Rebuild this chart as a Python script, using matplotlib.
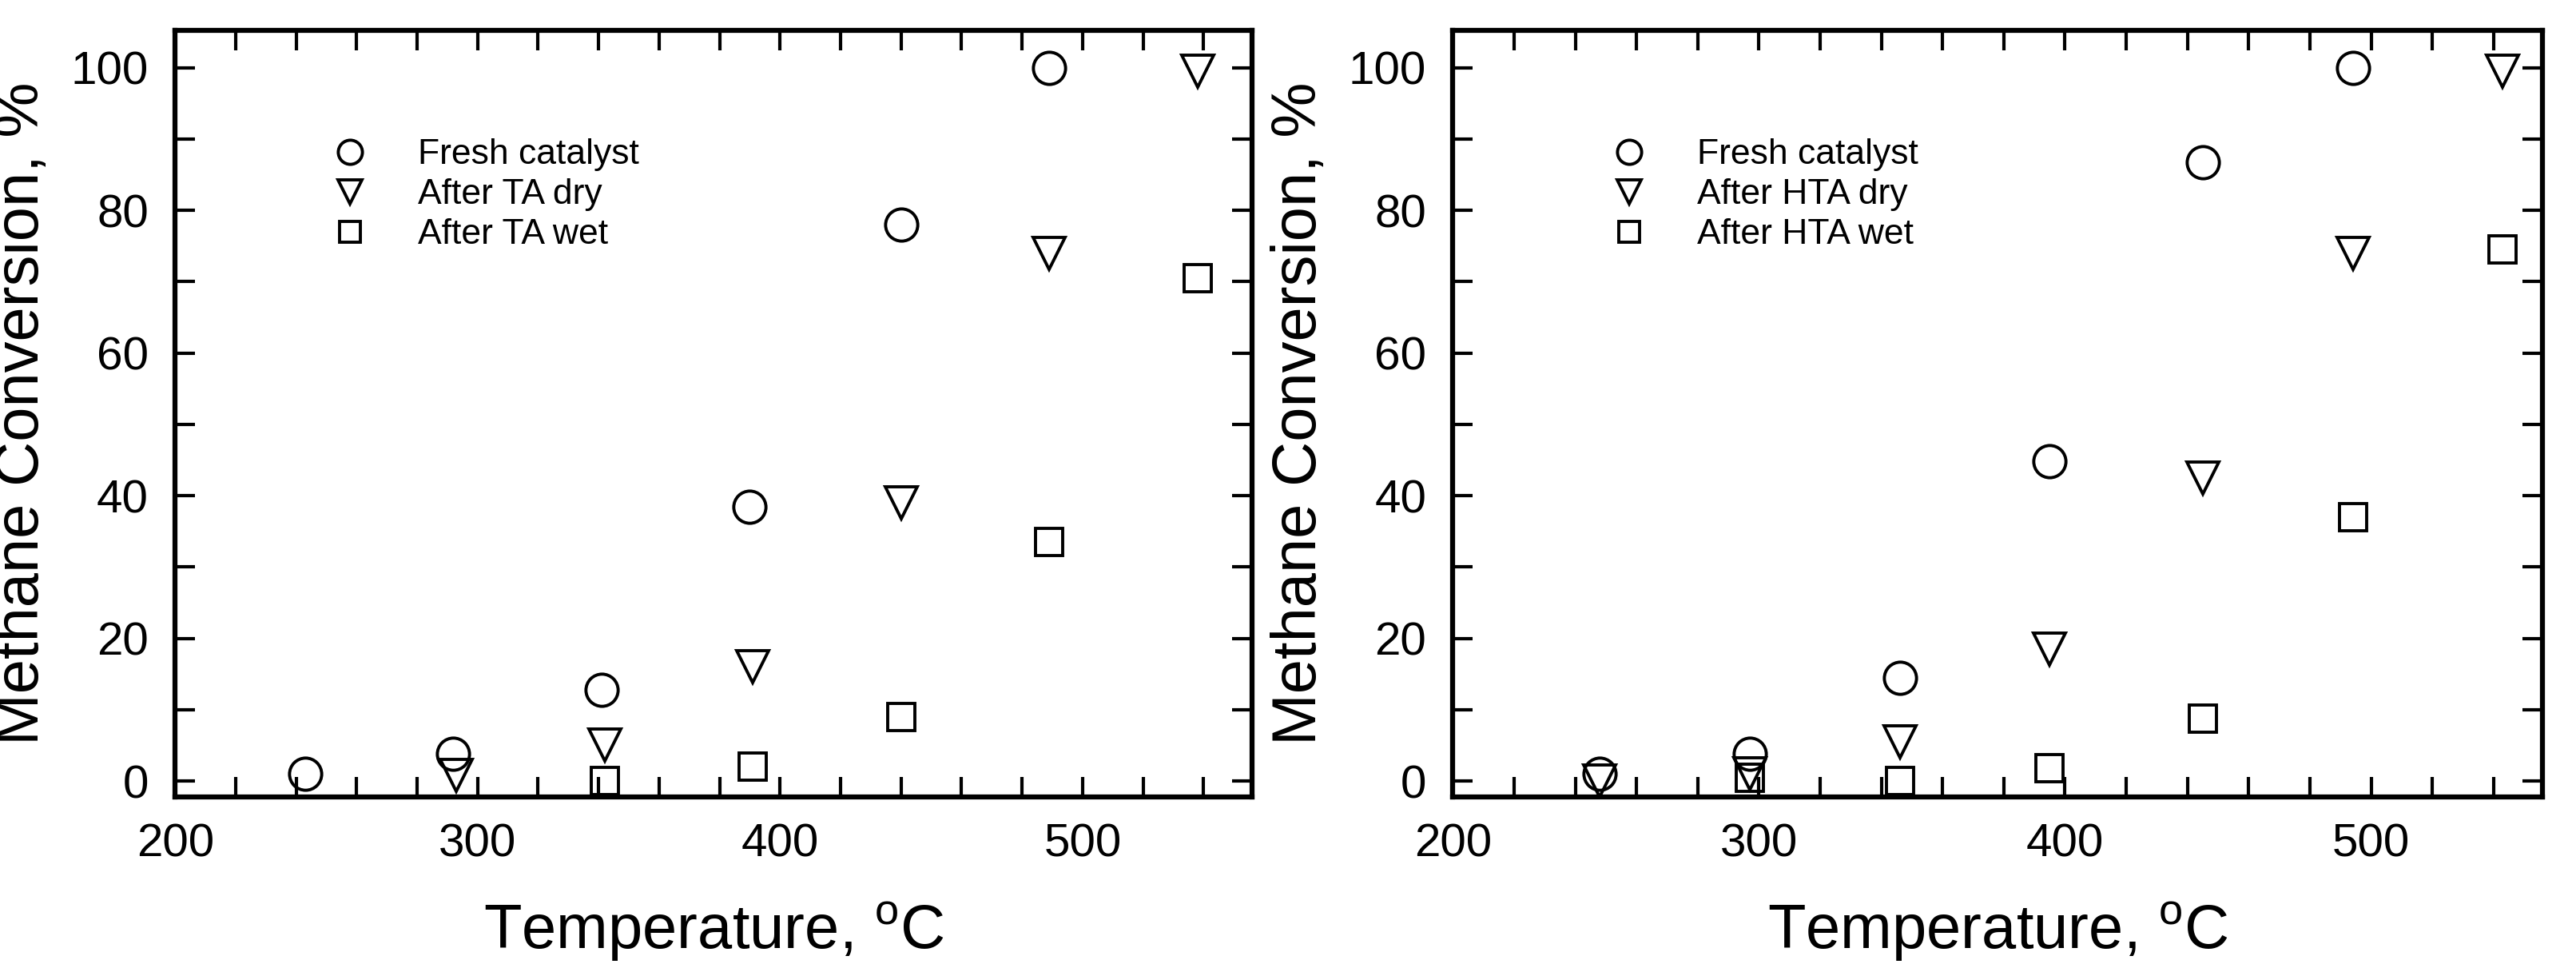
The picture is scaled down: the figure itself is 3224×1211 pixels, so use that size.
import matplotlib
matplotlib.use("Agg")
import matplotlib.pyplot as plt
from matplotlib.ticker import MultipleLocator

plt.rcParams['font.family'] = ['Liberation Sans', 'DejaVu Sans']

# Left panel data
L_fresh_T = [243, 292, 341, 390, 440, 489]
L_fresh_X = [1.0, 3.8, 12.8, 38.5, 78.0, 100.0]
L_dry_T = [293, 342, 391, 440, 489, 538]
L_dry_X = [0.8, 5.0, 16.0, 39.0, 74.0, 99.5]
L_wet_T = [342, 391, 440, 489, 538]
L_wet_X = [0.0, 2.0, 9.0, 33.5, 70.5]
L_labels = ["Fresh catalyst", "After TA dry", "After TA wet"]

# Right panel data
R_fresh_T = [248, 297, 346, 395, 445, 494]
R_fresh_X = [1.0, 3.8, 14.5, 44.8, 86.8, 100.0]
R_dry_T = [248, 297, 346, 395, 445, 494, 543]
R_dry_X = [0.0, 1.0, 5.5, 18.5, 42.5, 74.0, 99.5]
R_wet_T = [297, 346, 395, 445, 494, 543]
R_wet_X = [0.5, 0.0, 1.8, 8.7, 37.0, 74.5]
R_labels = ["Fresh catalyst", "After HTA dry", "After HTA wet"]

fig = plt.figure(figsize=(32.24, 12.11), dpi=100)
axL = fig.add_axes([0.068, 0.177, 0.418, 0.792])
axR = fig.add_axes([0.564, 0.177, 0.423, 0.792])

for ax, data, labels in [
    (axL, [(L_fresh_T, L_fresh_X), (L_dry_T, L_dry_X), (L_wet_T, L_wet_X)], L_labels),
    (axR, [(R_fresh_T, R_fresh_X), (R_dry_T, R_dry_X), (R_wet_T, R_wet_X)], R_labels),
]:
    for (t, x), m, lab in zip(data, ['o', 'v', 's'], labels):
        ax.plot(t, x, linestyle='none', marker=m, markersize=29 if m != 's' else 25,
                markerfacecolor='none', markeredgecolor='black', markeredgewidth=2.8, label=lab)
    ax.set_xlim(200, 556)
    ax.set_ylim(-2.2, 105.3)
    ax.xaxis.set_major_locator(MultipleLocator(100))
    ax.xaxis.set_minor_locator(MultipleLocator(20))
    ax.yaxis.set_major_locator(MultipleLocator(20))
    ax.yaxis.set_minor_locator(MultipleLocator(10))
    ax.tick_params(which='both', direction='in', top=True, right=True, width=3, labelsize=42, pad=24)
    ax.tick_params(which='both', length=18)
    for s in ax.spines.values():
        s.set_linewidth(4.5)
    ax.set_xlabel("Temperature, $^{\\mathregular{o}}$C", fontsize=56, labelpad=30)
    ax.set_ylabel("Methane Conversion, %", fontsize=56, labelpad=18)
    ax.legend(loc='upper left', bbox_to_anchor=(0.1, 0.9), frameon=False, fontsize=32,
              handletextpad=0.9, labelspacing=0.2, markerscale=0.75)

fig.savefig("out.png", dpi=100)
